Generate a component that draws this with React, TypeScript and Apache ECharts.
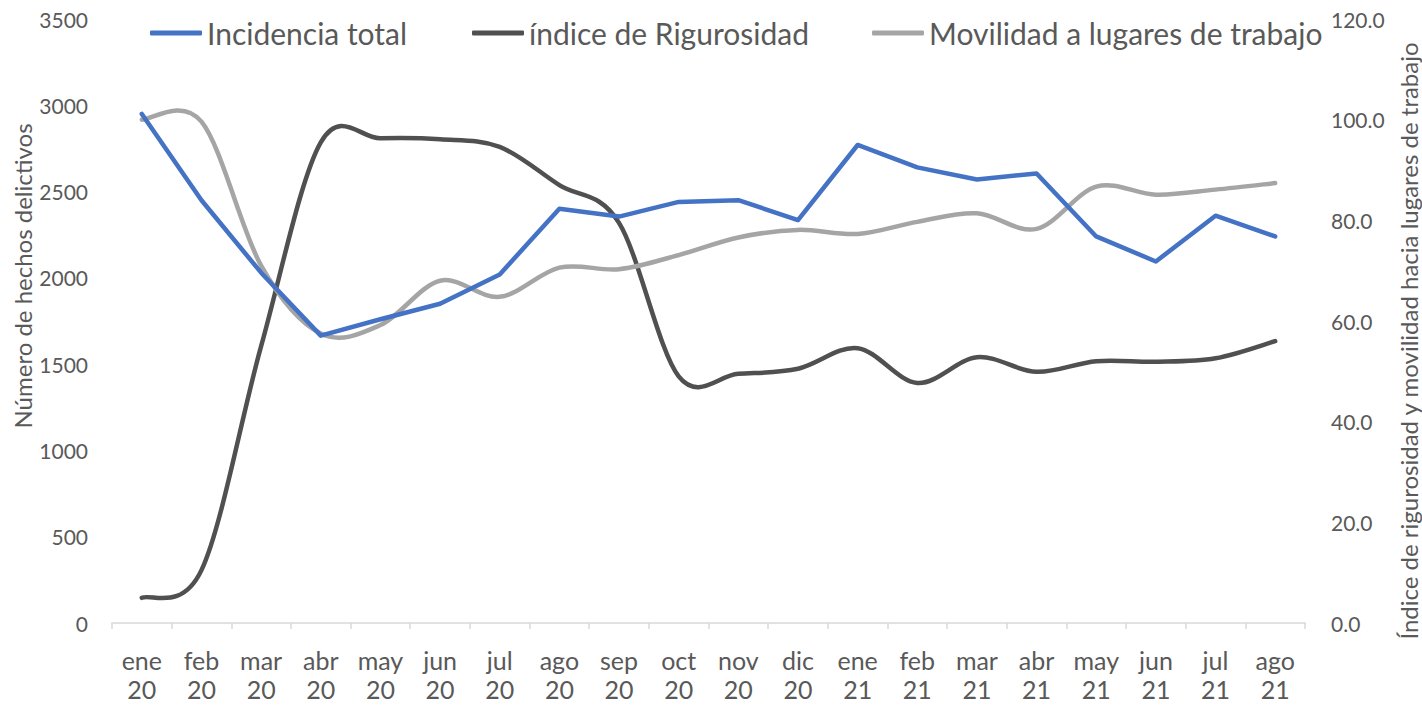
import React, { useEffect, useRef } from "react";
import * as echarts from "echarts";

const categories = [
  "ene\n20", "feb\n20", "mar\n20", "abr\n20", "may\n20", "jun\n20", "jul\n20", "ago\n20", "sep\n20", "oct\n20",
  "nov\n20", "dic\n20", "ene\n21", "feb\n21", "mar\n21", "abr\n21", "may\n21", "jun\n21", "jul\n21", "ago\n21",
];
const incidencia = [2950, 2450, 2030, 1665, 1760, 1850, 2020, 2400, 2355, 2440, 2450, 2335, 2770, 2640, 2570, 2605, 2240, 2095, 2360, 2240];
const rigurosidad = [5.0, 10.5, 55.0, 95.5, 96.3, 96.1, 94.6, 87.0, 79.5, 49.0, 49.5, 50.5, 54.6, 47.7, 52.8, 49.9, 52.0, 51.9, 52.6, 56.0];
const movilidad = [100.0, 99.6, 71.0, 57.5, 59.2, 68.0, 64.8, 70.6, 70.3, 73.1, 76.6, 78.1, 77.3, 79.7, 81.4, 78.3, 86.7, 85.1, 86.1, 87.4];
const leftTicks = [0, 3500, 500];
const rightTicks = [0, 120, 20];
const leftAxisName = "Número de hechos delictivos";
const rightAxisName = "Índice de rigurosidad y movilidad hacia lugares de trabajo";

const FONT = "Lato, 'Open Sans', sans-serif";
const TXT = "#595959";

// Excel-like smooth line (Catmull-Rom) drawn through the chart's own coordinate system
function smoothRender(values: number[], color: string) {
  return (params: any, api: any) => {
    if (params.dataIndex !== 0) return null;
    const n = values.length;
    const pt = (j: number) => {
      const k = Math.max(0, Math.min(n - 1, j));
      return api.coord([k, values[k]]);
    };
    const p0 = pt(0);
    let d = `M${p0[0]},${p0[1]}`;
    for (let i = 0; i < n - 1; i++) {
      const a = pt(i - 1), b = pt(i), c = pt(i + 1), e = pt(i + 2);
      const c1x = b[0] + (c[0] - a[0]) / 6;
      const c1y = b[1] + (c[1] - a[1]) / 6;
      const c2x = c[0] - (e[0] - b[0]) / 6;
      const c2y = c[1] - (e[1] - b[1]) / 6;
      d += ` C${c1x},${c1y} ${c2x},${c2y} ${c[0]},${c[1]}`;
    }
    return {
      type: "path",
      shape: { pathData: d },
      style: { fill: "none", stroke: color, lineWidth: 4.5, lineCap: "round", lineJoin: "round" },
    };
  };
}

export default function App() {
  const ref = useRef<HTMLDivElement>(null);
  useEffect(() => {
    const chart = echarts.init(ref.current!, undefined, { renderer: "svg" });
    const legendBase = {
      top: 13,
      itemWidth: 52,
      itemHeight: 5,
      icon: "roundRect",
      itemGap: 4,
      textStyle: { fontSize: 30, color: TXT, fontFamily: FONT },
    };
    chart.setOption({
      animation: false,
      textStyle: { fontFamily: FONT },
      legend: [
        { ...legendBase, left: 145, data: ["Incidencia total"] },
        { ...legendBase, left: 467, data: ["índice de Rigurosidad"] },
        { ...legendBase, left: 867, data: ["Movilidad a lugares de trabajo"] },
      ],
      grid: { left: 112, right: 117, top: 19, bottom: 83 },
      xAxis: {
        type: "category",
        data: categories,
        boundaryGap: true,
        axisLine: { lineStyle: { color: "#d9d9d9", width: 1.5 } },
        axisTick: { show: true, length: 6, lineStyle: { color: "#d9d9d9", width: 1.5 } },
        axisLabel: { color: TXT, fontSize: 25, fontFamily: FONT, margin: 22, lineHeight: 29, interval: 0 },
      },
      yAxis: [
        {
          type: "value",
          min: leftTicks[0],
          max: leftTicks[1],
          interval: leftTicks[2],
          splitLine: { show: false },
          axisLine: { show: false },
          axisTick: { show: false },
          axisLabel: { color: TXT, fontSize: 21, fontFamily: FONT, margin: 24, formatter: (v: number) => String(v) },
        },
        {
          type: "value",
          min: rightTicks[0],
          max: rightTicks[1],
          interval: rightTicks[2],
          position: "right",
          splitLine: { show: false },
          axisLine: { show: false },
          axisTick: { show: false },
          axisLabel: {
            color: TXT,
            fontSize: 21,
            fontFamily: FONT,
            margin: 26,
            formatter: (v: number) => v.toFixed(1),
          },
        },
      ],
      graphic: [
        {
          type: "text",
          x: 22,
          y: 276,
          rotation: Math.PI / 2,
          style: {
            text: leftAxisName,
            fill: TXT,
            fontSize: 24,
            fontFamily: FONT,
            align: "center",
            verticalAlign: "middle",
          },
        },
        {
          type: "text",
          x: 1408,
          y: 341,
          rotation: Math.PI / 2,
          style: {
            text: rightAxisName,
            fill: TXT,
            fontSize: 24,
            fontFamily: FONT,
            align: "center",
            verticalAlign: "middle",
          },
        },
      ],
      series: [
        {
          name: "Incidencia total",
          type: "line",
          yAxisIndex: 0,
          data: incidencia,
          showSymbol: false,
          symbol: "none",
          lineStyle: { color: "#4472C4", width: 4.5, cap: "round", join: "round" },
          itemStyle: { color: "#4472C4" },
          z: 4,
        },
        {
          name: "índice de Rigurosidad",
          type: "custom",
          yAxisIndex: 1,
          data: rigurosidad.map((v, i) => [i, v]),
          encode: { x: 0, y: 1 },
          renderItem: smoothRender(rigurosidad, "#505050"),
          itemStyle: { color: "#505050" },
          z: 2,
        },
        {
          name: "Movilidad a lugares de trabajo",
          type: "custom",
          yAxisIndex: 1,
          data: movilidad.map((v, i) => [i, v]),
          encode: { x: 0, y: 1 },
          renderItem: smoothRender(movilidad, "#A5A5A5"),
          itemStyle: { color: "#A5A5A5" },
          z: 3,
        },
      ],
    });
    return () => chart.dispose();
  }, []);
  return <div ref={ref} style={{ width: 1422, height: 706, position: "absolute", left: 0, top: 0 }} />;
}
